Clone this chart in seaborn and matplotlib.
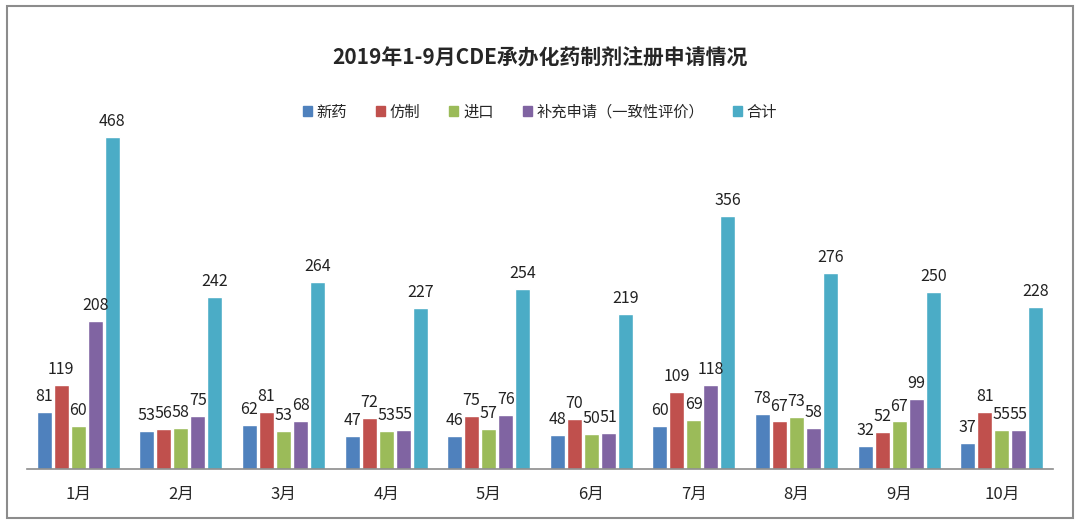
import matplotlib
matplotlib.use("Agg")
import matplotlib.pyplot as plt
from matplotlib.patches import Rectangle
import pandas as pd
import seaborn as sns

months = ["1月", "2月", "3月", "4月", "5月", "6月", "7月", "8月", "9月", "10月"]
series = ["新药", "仿制", "进口", "补充申请（一致性评价）", "合计"]
new_drug = [81, 53, 62, 47, 46, 48, 60, 78, 32, 37]
generic = [119, 56, 81, 72, 75, 70, 109, 67, 52, 81]
imported = [60, 58, 53, 53, 57, 50, 69, 73, 67, 55]
supplement = [208, 75, 68, 55, 76, 51, 118, 58, 99, 55]
total = [468, 242, 264, 227, 254, 219, 356, 276, 250, 228]
colors = ["#4F81BD", "#C0504D", "#9BBB59", "#8064A2", "#4BACC6"]

rows = []
for name, vals in zip(series, [new_drug, generic, imported, supplement, total]):
    for m, v in zip(months, vals):
        rows.append({"month": m, "series": name, "value": v})
df = pd.DataFrame(rows)

sns.set_style("white")
plt.rcParams["font.family"] = ["Noto Sans CJK SC", "DejaVu Sans"]

fig = plt.figure(figsize=(10.8, 5.24), dpi=100)
ax = fig.add_axes([27 / 1080, 55 / 524, 1026 / 1080, 369 / 524])

sns.barplot(data=df, x="month", y="value", hue="series", palette=colors,
            width=0.83, gap=0.12, ax=ax, legend=False, saturation=1)

# data labels; tight groups touch each other just like in the original
for cont in ax.containers:
    ax.bar_label(cont, fmt="%d", fontsize=11.5, color="#222222", padding=5)

ax.set_ylim(0, 520)
ax.set_xlim(-0.5, len(months) - 0.5)
ax.set_xlabel("")
ax.set_ylabel("")
ax.set_yticks([])
ax.tick_params(axis="x", length=0, labelsize=12, pad=12)
for s in ["top", "left", "right"]:
    ax.spines[s].set_visible(False)
ax.spines["bottom"].set_color("#8c8c8c")
ax.spines["bottom"].set_linewidth(1.2)

handles = [Rectangle((0, 0), 1, 1, color=c) for c in colors]
fig.legend(handles, series, loc="center", bbox_to_anchor=(0.5, 1 - 112 / 524),
           ncol=5, frameon=False, fontsize=11, handlelength=0.6, handleheight=0.6,
           handletextpad=0.3, columnspacing=1.9)

fig.text(0.5, 1 - 58 / 524, "2019年1-9月CDE承办化药制剂注册申请情况",
         ha="center", va="center", fontsize=15, fontweight="bold")

fig.patches.append(Rectangle((7 / 1080, 6 / 524), 1066 / 1080, 512 / 524,
                             transform=fig.transFigure, fill=False,
                             edgecolor="#8c8c8c", linewidth=1.5))

fig.savefig("out.png", dpi=100, facecolor="white")
